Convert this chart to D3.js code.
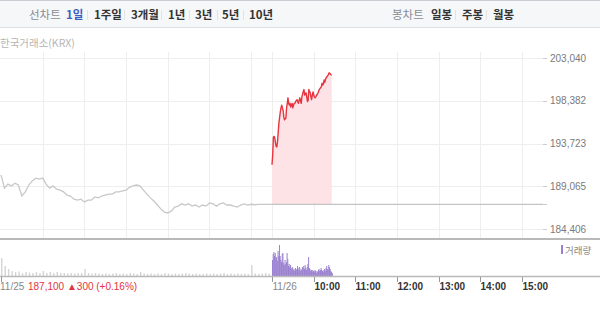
<!DOCTYPE html>
<html><head><meta charset="utf-8">
<script src="https://cdn.jsdelivr.net/npm/d3@7"></script>
<style>
html,body{margin:0;padding:0;background:#fff;}
svg{display:block;font-family:"Noto Sans CJK KR","Noto Sans",sans-serif;}
</style></head><body>
<script>
// ---- data ----
const periodTabs = ["1일","1주일","3개월","1년","3년","5년","10년"];
const candleTabs = ["일봉","주봉","월봉"];
const yTicks = [203040, 198382, 193723, 189065, 184406];
const xTickLabels = ["11/26","10:00","11:00","12:00","13:00","14:00","15:00"];
const xTickMinutes = [390, 450, 510, 570, 630, 690, 750];
const prevClose = 187100;
const prevInfo = {date:"11/25", price:"187,100", change:"▲300", pct:"(+0.16%)"};
// previous day (11/25) price, 5-minute steps from 09:00
const prevPrices = [190300,188850,189300,189100,189400,189200,188000,188450,189200,189650,
189950,189850,189950,189300,188850,189100,188750,188650,188450,188100,
188000,187650,187550,187650,187350,187550,187550,187900,187800,188000,
188100,188200,188200,188450,188450,188550,188650,188950,189100,189200,
189100,188650,188200,187800,187450,187020,186600,186250,186150,186350,
186800,186900,187150,187020,187150,186900,187020,186800,187020,186900,
187250,187150,186900,187150,187250,187020,187020,186900,186800,187020,
187150,187020,187100,187050,187100,187100,187100,187100,187100];
const prevVolumes = [18000,10000,7000,5000,4000,4500,3000,4000,3500,3000,
4000,3000,5000,3000,4000,3000,4000,3000,3000,2500,
3000,2500,3000,3000,7000,3000,2500,3000,2500,2000,
2500,2000,2500,3000,2000,2500,2000,3000,2500,2000,
4000,2500,2000,2500,2000,2500,2000,3000,2500,2000,
2500,2000,2500,3000,2500,2000,2500,2000,2000,2500,
2000,2500,2000,2500,3000,2000,2500,2000,2500,2000,
2500,2000,11000,2500,2000,2500,3000,2500,2000];
// today (11/26) price, 1-minute steps from 09:00
const todayPrices = [191400,192500,194400,194500,194300,193800,193400,193350,194000,195000,
196000,196600,197200,197600,197900,197600,197300,196600,196300,196400,
196500,197600,198100,198700,198100,197900,198100,197700,197900,198100,
197600,197900,198100,198100,198300,198400,198500,198300,198100,198400,
198700,198400,198100,198800,199100,199400,199600,199000,199100,199250,
198800,198300,198400,199600,199400,199250,198800,198500,199000,199350,
199000,198800,198700,198800,199000,199050,199200,199400,199600,199700,
199800,199900,200300,200100,200200,200650,200400,200700,200900,201000,
201100,201200,201400,201400,201300,201200,201200];
const todayVolumes = [16000,22000,24000,20000,23000,18000,19000,15000,25000,20000,
31000,20000,16000,14000,22000,23000,13000,11000,16000,12000,
14000,23000,17000,10000,12000,9000,11000,8000,7000,9000,
6000,7000,5000,8000,6000,7000,10000,6000,8000,9000,
5000,7000,6000,9000,8000,10000,7000,11000,8000,6000,
9000,12000,19000,8000,7000,5000,6000,4000,6000,5000,
4000,6000,5000,3000,5000,4000,6000,7000,5000,6000,
8000,6000,5000,4000,6000,7000,5000,8000,10000,7000,
6000,11000,9000,7000,5000,4000,3000];

// ---- layout ----
const W = 600, H = 310;
const svg = d3.select("body").append("svg").attr("width", W).attr("height", H);

const x = d3.scaleLinear().domain([0, 780]).range([1, 543]);
const y = d3.scaleLinear().domain([184406, 203040]).range([229, 58]);
const yv = d3.scaleLinear().domain([0, 35000]).range([276, 241]);

const prevData = prevPrices.map((p, i) => ({t: i * 5, p}));
const todayData = todayPrices.map((p, i) => ({t: 390 + i, p}));

// top menu bar
svg.append("rect").attr("x",0).attr("y",0).attr("width",W).attr("height",27).attr("fill","#f6f7f9");
svg.append("line").attr("x1",0).attr("x2",W).attr("y1",0.5).attr("y2",0.5).attr("stroke","#c9ccd2");
svg.append("line").attr("x1",0).attr("x2",W).attr("y1",27.5).attr("y2",27.5).attr("stroke","#dde0e5");

const menu = svg.append("g").attr("font-size", 11.5);
menu.append("text").attr("x",29).attr("y",19).attr("fill","#8a8d93").text("선차트");
const tabX = [66, 94, 131, 168, 195, 222, 249];
const sepX = [87, 124, 161, 189, 217, 243];
periodTabs.forEach((t, i) => {
  menu.append("text").attr("x", tabX[i]).attr("y", 19)
    .attr("font-weight", "bold").attr("fill", i === 0 ? "#3b5fc0" : "#333").text(t);
});
sepX.forEach(sx => menu.append("line").attr("x1",sx+0.5).attr("x2",sx+0.5).attr("y1",10).attr("y2",20).attr("stroke","#e3e3e3"));
menu.append("text").attr("x",392).attr("y",19).attr("fill","#8a8d93").text("봉차트");
const cX = [431, 462, 493];
candleTabs.forEach((t, i) => {
  menu.append("text").attr("x", cX[i]).attr("y", 19).attr("font-weight","bold").attr("fill","#333").text(t);
});
[455, 486].forEach(sx => menu.append("line").attr("x1",sx+0.5).attr("x2",sx+0.5).attr("y1",10).attr("y2",20).attr("stroke","#e3e3e3"));

// source label
svg.append("text").attr("x",0).attr("y",47).attr("font-size",10.5).attr("fill","#b5b5b5").text("한국거래소(KRX)");

// grid
const grid = svg.append("g").attr("stroke","#eeeeee").attr("stroke-width",1);
yTicks.forEach(v => grid.append("line").attr("x1",0).attr("x2",543)
  .attr("y1",Math.round(y(v))+0.5).attr("y2",Math.round(y(v))+0.5));
const vGrid = [60,120,180,240,300,360,390,450,510,570,630,690,750];
vGrid.forEach(t => grid.append("line").attr("x1",Math.round(x(t))+0.5).attr("x2",Math.round(x(t))+0.5)
  .attr("y1",52).attr("y2",238));

// y-axis labels
const ya = svg.append("g").attr("font-size",10).attr("font-family","'Liberation Sans',Arial,sans-serif").attr("fill","#7a7a7a");
yTicks.forEach(v => {
  ya.append("line").attr("x1",543).attr("x2",547).attr("y1",Math.round(y(v))+0.5).attr("y2",Math.round(y(v))+0.5).attr("stroke","#ccc");
  ya.append("text").attr("x",550).attr("y",y(v)+3.5).text(d3.format(",")(v));
});
ya.append("line").attr("x1",543).attr("x2",547).attr("y1",Math.round(y(prevClose))+0.5).attr("y2",Math.round(y(prevClose))+0.5).attr("stroke","#ccc");

// previous close reference line
svg.append("line").attr("x1",x(390)).attr("x2",x(780)).attr("y1",y(prevClose)).attr("y2",y(prevClose))
  .attr("stroke","#c4c4c4").attr("stroke-width",1.2);

// today's fill
const area = d3.area().x(d => x(d.t)).y0(y(prevClose)).y1(d => y(d.p));
svg.append("path").datum(todayData).attr("d", area).attr("fill","#fde2e5").attr("opacity",0.95);
svg.append("line").attr("x1",x(390)).attr("x2",x(390+todayData.length-1)).attr("y1",y(prevClose)).attr("y2",y(prevClose))
  .attr("stroke","#c4c4c4").attr("stroke-width",1.2);

// previous day line
const line = d3.line().x(d => x(d.t)).y(d => y(d.p));
svg.append("path").datum(prevData.concat([{t:390, p:prevClose}])).attr("d", line)
  .attr("fill","none").attr("stroke","#c8c8c8").attr("stroke-width",1.3);
// today line
svg.append("path").datum(todayData).attr("d", line)
  .attr("fill","none").attr("stroke","#e8343f").attr("stroke-width",1.4).attr("stroke-linejoin","round");

// separator between panels
svg.append("line").attr("x1",0).attr("x2",W).attr("y1",239).attr("y2",239).attr("stroke","#b9b9b9").attr("stroke-width",2.2);

// volume bars
svg.append("g").selectAll("rect").data(prevVolumes).join("rect")
  .attr("x",(d,i) => x(i*5)).attr("width",1.4)
  .attr("y", d => yv(d)).attr("height", d => 276 - yv(d)).attr("fill","#d4d4d4");
svg.append("g").selectAll("rect").data(todayVolumes).join("rect")
  .attr("x",(d,i) => x(390+i)).attr("width",1)
  .attr("y", d => yv(d)).attr("height", d => 276 - yv(d)).attr("fill","#9a80cf");

// volume legend
svg.append("rect").attr("x",561).attr("y",245).attr("width",2).attr("height",9).attr("fill","#9a80cf");
svg.append("text").attr("x",565).attr("y",253.5).attr("font-size",9.5).attr("fill","#888").text("거래량");

// x axis baseline
svg.append("line").attr("x1",0).attr("x2",W).attr("y1",276.5).attr("y2",276.5).attr("stroke","#b9b9b9").attr("stroke-width",1.5);

const xa = svg.append("g").attr("font-size",10).attr("font-family","'Liberation Sans',Arial,sans-serif");
xTickMinutes.forEach((t, i) => {
  const px = Math.round(x(t)) + 0.5;
  xa.append("line").attr("x1",px).attr("x2",px).attr("y1",277).attr("y2",282).attr("stroke","#999");
  xa.append("text").attr("x",px).attr("y",290).attr("fill", i === 0 ? "#888" : "#333")
    .attr("font-weight", i === 0 ? "normal" : "bold").text(xTickLabels[i]);
});
xa.append("line").attr("x1",1.5).attr("x2",1.5).attr("y1",277).attr("y2",282).attr("stroke","#999");
xa.append("text").attr("x",0).attr("y",290).attr("fill","#888").text(prevInfo.date);
xa.append("text").attr("x",28).attr("y",290).attr("fill","#e5323c")
  .text(prevInfo.price + " " + prevInfo.change + " " + prevInfo.pct);
</script>
</body></html>
